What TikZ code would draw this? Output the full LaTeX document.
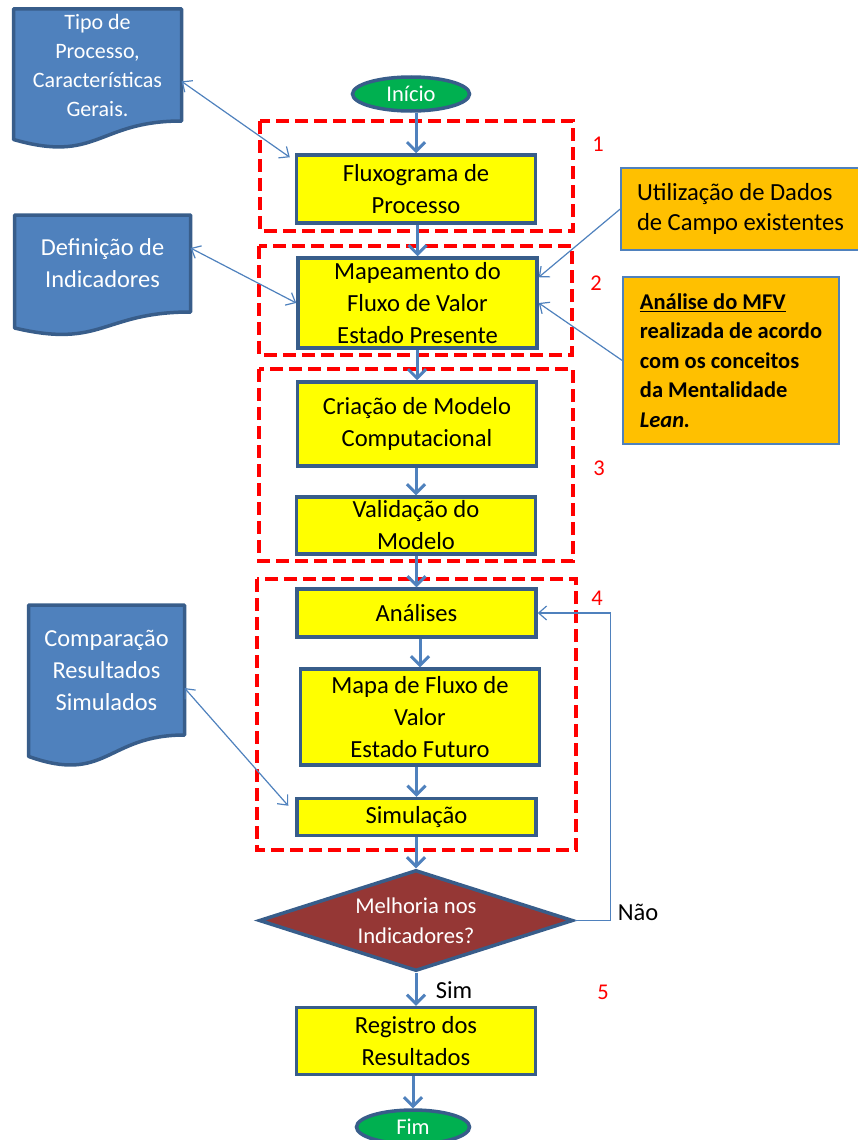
\documentclass[tikz,border=0pt]{standalone}
\usepackage{fontspec}
\setmainfont{Carlito}
\usepackage{tikz}
\usepackage{xcolor}
\usetikzlibrary{shapes.geometric}
\usetikzlibrary{arrows.meta}
\usetikzlibrary{calc}
\usetikzlibrary{backgrounds}

\definecolor{boxline}{RGB}{56,93,138}
\definecolor{flowblue}{RGB}{79,129,189}
\definecolor{procfill}{RGB}{255,255,0}
\definecolor{termfill}{RGB}{0,176,80}
\definecolor{decfill}{RGB}{149,55,53}
\definecolor{notefill}{RGB}{255,192,0}

\tikzset{
    proc/.style={rectangle, draw=boxline, line width=3.5pt, fill=procfill,
        minimum width=239pt, inner sep=2pt, align=center,
        font=\fontsize{24.6}{32}\selectfont},
    term/.style={ellipse, draw=boxline, line width=3.5pt, fill=termfill,
        text=white, inner sep=0pt, font=\fontsize{22.5}{26}\selectfont},
    decis/.style={diamond, aspect=3, draw=boxline, line width=3.5pt,
        fill=decfill, text=white, inner sep=0pt, align=center,
        font=\fontsize{22.6}{30}\selectfont},
    doctext/.style={rectangle, outer sep=0pt, inner sep=0pt, text=white,
        align=center, font=\fontsize{24.4}{32}\selectfont},
    docbody/.style={fill=flowblue, draw=boxline, line width=3.5pt, line join=round},
    note/.style={rectangle, draw=flowblue, line width=1.5pt, fill=notefill,
        align=left, inner xsep=16pt, font=\fontsize{24.6}{30}\selectfont},
    grp/.style={draw=red, line width=4pt, dash pattern=on 13pt off 6pt},
    num/.style={text=red, font=\fontsize{22.5}{26}\selectfont},
    lbl/.style={font=\fontsize{24.5}{28}\selectfont},
    flow/.style={draw=flowblue, line width=3pt, -{Straight Barb[length=9pt,width=18pt]}},
    link/.style={draw=flowblue, line width=1.2pt,
        {Straight Barb[length=8pt,width=14pt]}-{Straight Barb[length=8pt,width=14pt]}},
    feed/.style={draw=flowblue, line width=1.2pt, -{Straight Barb[length=8pt,width=14pt]}},
}

%% documento com base ondulada: #1 = nome do no de texto, #2 = altura total
\newcommand{\docwave}[2]{%
    \path[docbody] (#1.north west) -- (#1.north east) -- (#1.south east)
        .. controls (#1.south) and ($(#1.south)+(0,0.305*#2)$)
        .. ($(#1.south west)+(0,0.132*#2)$) -- cycle;
}

\begin{document}
\begin{tikzpicture}[x=1pt, y=-1pt]
    \useasboundingbox (0,0) rectangle (858,1140);
    %% etapas (tracejado vermelho)
    \draw[grp] (260,121) rectangle (573,231);
    \draw[grp] (259,246) rectangle (572,355);
    \draw[grp] (259,369) rectangle (573,561);
    \draw[grp] (257,579) rectangle (576,850);
    \node[num] (n1) at (598,144) {1};
    \node[num] (n2) at (596,283) {2};
    \node[num] (n3) at (599,468) {3};
    \node[num] (n4) at (597,598) {4};
    \node[num] (n5) at (603,992) {5};

    %% fluxo principal
    \node[term, minimum width=117pt, minimum height=34pt] (inicio) at (411,94) {Início};
    \node[proc, minimum height=68pt] (flux) at (416,189) {Fluxograma de\\Processo};
    \node[proc, minimum height=90pt] (mapa) at (417.5,303) {Mapeamento do\\Fluxo de Valor\\Estado Presente};
    \node[proc, minimum height=84pt] (criac) at (417,424) {Criação de Modelo\\Computacional};
    \node[proc, minimum height=57pt] (valid) at (416,525.5) {Validação do\\Modelo};
    \node[proc, minimum height=48pt] (anali) at (416.5,613) {Análises};
    \node[proc, minimum height=96pt] (futuro) at (420,717) {Mapa de Fluxo de\\Valor\\Estado Futuro};
    \node[proc, minimum height=37pt] (simul) at (416.5,817) {Simulação};
    \node[decis, minimum width=314pt, minimum height=101pt] (melhor) at (416,920.5) {Melhoria nos\\Indicadores?};
    \node[proc, minimum height=67pt] (regist) at (416,1041) {Registro dos\\Resultados};
    \node[term, minimum width=113pt, minimum height=34pt] (fim) at (413,1127) {Fim};

    \node[lbl] (nao) at (638,912) {Não};
    \node[lbl] (sim) at (454,990) {Sim};

    %% documentos (texto; o corpo vai no fundo)
    \node[doctext, minimum width=168pt, minimum height=112pt,
        font=\fontsize{22}{29}\selectfont] (tipo) at (97.5,65)
        {Tipo de\\Processo,\\Características\\Gerais.};
    \node[doctext, minimum width=176pt, minimum height=97pt] (defin) at (102.5,263.5)
        {Definição de\\Indicadores};
    \node[doctext, minimum width=156pt, minimum height=130pt] (compar) at (106.5,670)
        {Comparação\\Resultados\\Simulados};
    \begin{pgfonlayer}{background}
        \docwave{tipo}{140}
        \docwave{defin}{121}
        \docwave{compar}{162}
    \end{pgfonlayer}

    %% notas laranja
    \node[note, minimum width=235pt, minimum height=82pt] (util) at (740.5,209)
        {Utilização de Dados\\de Campo existentes};
    \node[note, minimum width=216pt, minimum height=167pt,
        font={\fontsize{22.5}{29.5}\selectfont\bfseries}] (lean) at (731,360.5)
        {\underline{Análise do MFV}\\realizada de acordo\\com os conceitos\\da Mentalidade\\\textit{Lean.}};

    %% setas do fluxo
    \foreach \a/\b in {inicio/flux, flux/mapa, mapa/criac, criac/valid, valid/anali,
        anali/futuro, futuro/simul, simul/melhor, melhor/regist, regist/fim}
        \draw[flow] (\b.north |- \a.south) -- (\b.north);

    %% ligacoes finas
    \draw[link] (tipo.-11) -- ([xshift=-5pt,yshift=-4pt]flux.north west);
    \draw[link] (defin.10) -- (mapa.west);
    \draw[link] (compar.-13) -- ([xshift=-7pt,yshift=-9pt]simul.north west);
    \draw[feed] (util.west) -- (mapa.12);
    \draw[feed] (lean.west) -- (mapa.east);
    \draw[feed] (melhor.east) -- ++(36,0) |- (anali.east);
\end{tikzpicture}
\end{document}
